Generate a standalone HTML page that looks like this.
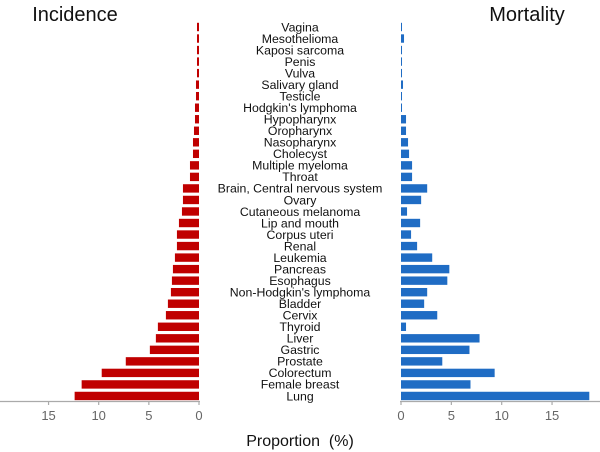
<!DOCTYPE html>
<html><head><meta charset="utf-8"><style>
body{margin:0;background:#fff;}
svg{display:block;font-family:"Liberation Sans",Arial,sans-serif;}
</style></head><body>
<svg id="chart" width="600" height="452">
<text x="75" y="21" font-size="20" text-anchor="middle" fill="#111">Incidence</text>
<text x="527" y="21" font-size="20" text-anchor="middle" fill="#111">Mortality</text>
<text x="300" y="446" font-size="16" text-anchor="middle" fill="#111">Proportion &#160;(%)</text>
<g id="bars"></g>
</svg>
<script>
const categories=["Vagina","Mesothelioma","Kaposi sarcoma","Penis","Vulva","Salivary gland","Testicle","Hodgkin's lymphoma","Hypopharynx","Oropharynx","Nasopharynx","Cholecyst","Multiple myeloma","Throat","Brain, Central nervous system","Ovary","Cutaneous melanoma","Lip and mouth","Corpus uteri","Renal","Leukemia","Pancreas","Esophagus","Non-Hodgkin's lymphoma","Bladder","Cervix","Thyroid","Liver","Gastric","Prostate","Colorectum","Female breast","Lung"];
const incidence=[0.2,0.2,0.2,0.2,0.2,0.3,0.3,0.4,0.4,0.5,0.6,0.6,0.9,0.9,1.6,1.6,1.7,2.0,2.2,2.2,2.4,2.6,2.7,2.8,3.1,3.3,4.1,4.3,4.9,7.3,9.7,11.7,12.4];
const mortality=[0.1,0.3,0.1,0.1,0.1,0.2,0.1,0.1,0.5,0.5,0.7,0.8,1.1,1.1,2.6,2.0,0.6,1.9,1.0,1.6,3.1,4.8,4.6,2.6,2.3,3.6,0.5,7.8,6.8,4.1,9.3,6.9,18.7];
const ticks=[0,5,10,15];
const NS="http://www.w3.org/2000/svg";
const g=document.getElementById('bars');
const xL=v=>199-v*10.03, xR=v=>401+v*10.07;
const yC=i=>27+i*11.53;
function mk(t,a){const e=document.createElementNS(NS,t);for(const k in a)e.setAttribute(k,a[k]);g.appendChild(e);return e;}
categories.forEach((c,i)=>{
 const y=yC(i);
 const l=mk('rect',{x:xL(incidence[i]),y:y-4.2,width:199-xL(incidence[i]),height:8.4,fill:'#c00000'});
 
 
 const r=mk('rect',{x:401,y:y-4.2,width:xR(mortality[i])-401,height:8.4,fill:'#1f6cc4'});
 
 
 const t=mk('text',{x:300,y:y+4.3,'font-size':12.3,'text-anchor':'middle',fill:'#111'});
 t.textContent=c;
 
 
});
const la=mk('line',{x1:0,x2:200,y1:401.5,y2:401.5,stroke:'#aaa','stroke-width':1.3});


const ra=mk('line',{x1:400,x2:600,y1:401.5,y2:401.5,stroke:'#aaa','stroke-width':1.3});


ticks.forEach(v=>{
 [[xL(v),'incidence'],[xR(v),'mortality']].forEach(([x,s])=>{
  const tk=mk('line',{x1:x,x2:x,y1:401,y2:405,stroke:'#aaa','stroke-width':1.2});
  
  
  const tl=mk('text',{x:x,y:420,'font-size':13,'text-anchor':'middle',fill:'#666'});
  tl.textContent=v;
  
  
 });
});
</script>
</body></html>
